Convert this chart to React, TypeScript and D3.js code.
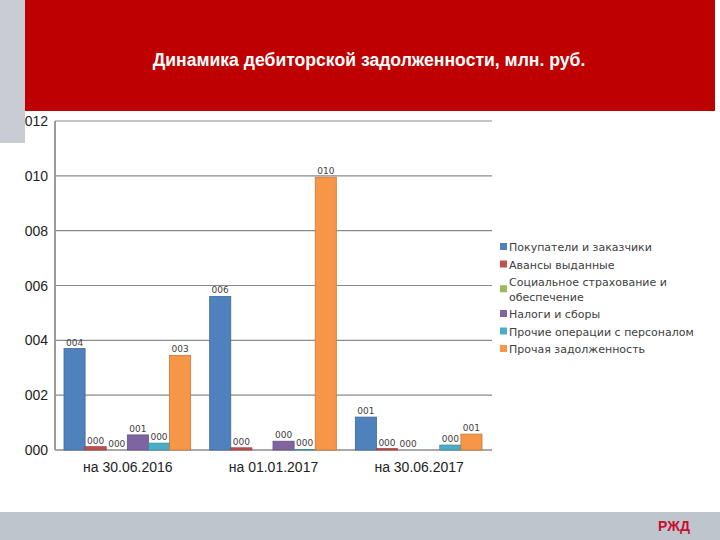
import React from "react";
import * as d3 from "d3";

const categories = ["на 30.06.2016", "на 01.01.2017", "на 30.06.2017"];
const seriesNames = [
  "Покупатели и заказчики",
  "Авансы выданные",
  "Социальное страхование и обеспечение",
  "Налоги и сборы",
  "Прочие операции с персоналом",
  "Прочая задолженность",
];
const legendLines = [
  ["Покупатели и заказчики"],
  ["Авансы выданные"],
  ["Социальное страхование и", "обеспечение"],
  ["Налоги и сборы"],
  ["Прочие операции с персоналом"],
  ["Прочая задолженность"],
];
const colors = ["#4F81BD", "#C0504D", "#9BBB59", "#8064A2", "#4BACC6", "#F79646"];
// values[series][category]
const pokupateli = [3.7, 5.6, 1.2];
const avansy = [0.12, 0.08, 0.05];
const socStrah: (number | null)[] = [0, null, 0];
const nalogi: (number | null)[] = [0.55, 0.32, null];
const prochieOper = [0.25, 0.02, 0.18];
const prochaya = [3.45, 9.95, 0.58];
const values: (number | null)[][] = [pokupateli, avansy, socStrah, nalogi, prochieOper, prochaya];
const yTicks = [0, 2, 4, 6, 8, 10, 12];

const W = 720;
const H = 540;
const left = 55;
const right = 492;
const top = 121;
const bottom = 450;

export default function App() {
  const x0 = d3.scaleBand<string>().domain(categories).range([left, right]).paddingInner(0).paddingOuter(0);
  const bw = x0.bandwidth();
  const x1 = d3
    .scaleBand<number>()
    .domain(d3.range(seriesNames.length))
    .range([9, bw - 10])
    .padding(0);
  const y = d3.scaleLinear().domain([0, 12]).range([bottom, top]);
  const fmt = d3.format("03d");
  const font = "'DejaVu Sans', sans-serif";
  const axisFont = "'Liberation Sans', Arial, sans-serif";

  return (
    <svg width={W} height={H} style={{ position: "absolute", left: 0, top: 0, background: "#fff" }}>
      {/* header */}
      <rect x={0} y={0} width={25} height={143} fill="#C9CDD3" />
      <rect x={25} y={0} width={690} height={111} fill="#BF0000" />
      <text x={369} y={66} textAnchor="middle" fill="#fff" fontFamily="'Liberation Sans', Arial, sans-serif" fontWeight="bold" fontSize={17.6}>
        Динамика дебиторской задолженности, млн. руб.
      </text>

      {/* grid */}
      {yTicks.map((t) => (
        <line key={t} x1={left} x2={right} y1={y(t)} y2={y(t)} stroke={t === 0 ? "#555" : "#8a8a8a"} strokeWidth={1.2} />
      ))}
      <line x1={left} x2={left} y1={top} y2={bottom} stroke="#9a9a9a" strokeWidth={2} />
      {yTicks.map((t) => (
        <text key={"yl" + t} x={48} y={y(t) + 5} textAnchor="end" fontFamily={axisFont} fontSize={14} fill="#222">
          {fmt(t)}
        </text>
      ))}

      {/* bars */}
      {categories.map((c, ci) => (
        <g key={c} transform={`translate(${x0(c)},0)`}>
          {values.map((vals, si) => {
            const v = vals[ci];
            if (v === null) return null;
            const bx = x1(si)!;
            const w = x1.bandwidth();
            const c0 = d3.color(colors[si])!.darker(0.6).toString();
            return (
              <g key={si}>
                {v > 0 && (
                  <rect x={bx} y={y(v)} width={w} height={bottom - y(v)} fill={colors[si]} stroke={c0} strokeWidth={0.8} />
                )}
                <text x={bx + w / 2} y={y(v) - 3} textAnchor="middle" fontFamily={font} fontSize={9} fill="#404040">
                  {fmt(Math.round(v))}
                </text>
              </g>
            );
          })}
          <text x={bw / 2} y={472} textAnchor="middle" fontFamily={axisFont} fontSize={14} fill="#222">
            {c}
          </text>
        </g>
      ))}

      {/* legend */}
      {(() => {
        let yy = 247;
        return legendLines.map((lines, i) => {
          const startY = yy;
          yy += lines.length * 14.5 + 3;
          const my = startY + ((lines.length - 1) * 14.5) / 2;
          return (
            <g key={i}>
              <rect x={500} y={my - 4} width={7} height={7} fill={colors[i]} />
              {lines.map((ln, li) => (
                <text key={li} x={509} y={startY + li * 14.5 + 4} fontFamily={font} fontSize={11} fill="#404040">
                  {ln}
                </text>
              ))}
            </g>
          );
        });
      })()}

      {/* footer */}
      <rect x={0} y={512} width={W} height={28} fill="#BFC5CD" />
      <text x={674} y={531} textAnchor="middle" fontFamily="'Liberation Sans', sans-serif" fontWeight="bold" fontSize={14} fill="#C8102E">
        РЖД
      </text>
    </svg>
  );
}
